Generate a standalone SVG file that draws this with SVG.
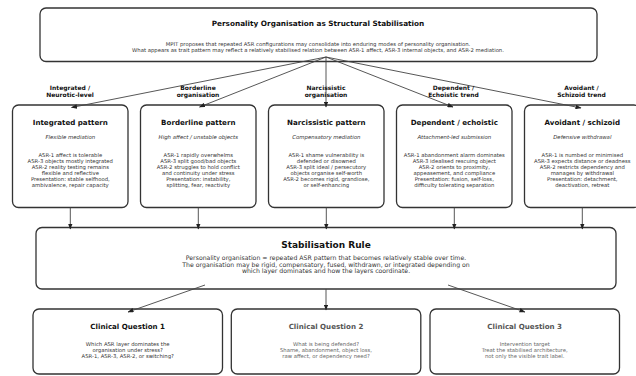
<svg xmlns="http://www.w3.org/2000/svg" width="636" height="376" viewBox="0 0 636 376">
<defs>
<marker id="ah" markerUnits="userSpaceOnUse" markerWidth="6" markerHeight="4.6" refX="5.5" refY="2.3" orient="auto">
<path d="M0,0 L6,2.3 L0,4.6 z" fill="#222"/>
</marker>
<style>
text{font-family:"DejaVu Sans","Liberation Sans",sans-serif;text-anchor:middle}
.box{fill:#fff;stroke:#333;stroke-width:1.3}
.t1{font-size:7.3px;font-weight:bold;fill:#111}
.tp{font-size:7.1px;font-weight:bold;fill:#111}
.ts{font-size:9px;font-weight:bold;fill:#111}
.it{font-size:5.4px;font-style:italic;fill:#333}
.b{font-size:5.3px;fill:#333}
.bs{font-size:6.2px;fill:#333}
.lab{font-size:6px;font-weight:bold;fill:#111}
.g .tp{fill:#555}
.g .b{fill:#666}
.e{stroke:#444;stroke-width:0.9;fill:none;marker-end:url(#ah)}
</style>
</defs>
<g id="top">
<rect class="box" x="40" y="8" width="557" height="53.5" rx="6"/>
<text class="t1" x="318" y="25.5">Personality Organisation as Structural Stabilisation</text>
<text class="b" x="318" y="45.5">MPIT proposes that repeated ASR configurations may consolidate into enduring modes of personality organisation.</text>
<text class="b" x="318" y="52">What appears as trait pattern may reflect a relatively stabilised relation between ASR-1 affect, ASR-3 internal objects, and ASR-2 mediation.</text>
</g>
<g id="p1">
<rect class="box" x="12.5" y="105" width="115.5" height="102.5" rx="6"/>
<text class="tp" x="70.3" y="124.5">Integrated pattern</text>
<text class="it" x="70.3" y="139">Flexible mediation</text>
<text class="b" x="70.3" y="157">ASR-1 affect is tolerable</text>
<text class="b" x="70.3" y="162.9">ASR-3 objects mostly integrated</text>
<text class="b" x="70.3" y="168.8">ASR-2 reality testing remains</text>
<text class="b" x="70.3" y="174.7">flexible and reflective</text>
<text class="b" x="70.3" y="180.6">Presentation: stable selfhood,</text>
<text class="b" x="70.3" y="186.5">ambivalence, repair capacity</text>
</g>
<g id="p2">
<rect class="box" x="140.5" y="105" width="115.5" height="102.5" rx="6"/>
<text class="tp" x="198.3" y="124.5">Borderline pattern</text>
<text class="it" x="198.3" y="139">High affect / unstable objects</text>
<text class="b" x="198.3" y="157">ASR-1 rapidly overwhelms</text>
<text class="b" x="198.3" y="162.9">ASR-3 split good/bad objects</text>
<text class="b" x="198.3" y="168.8">ASR-2 struggles to hold conflict</text>
<text class="b" x="198.3" y="174.7">and continuity under stress</text>
<text class="b" x="198.3" y="180.6">Presentation: instability,</text>
<text class="b" x="198.3" y="186.5">splitting, fear, reactivity</text>
</g>
<g id="p3">
<rect class="box" x="268.5" y="105" width="115.5" height="102.5" rx="6"/>
<text class="tp" x="326.3" y="124.5">Narcissistic pattern</text>
<text class="it" x="326.3" y="139">Compensatory mediation</text>
<text class="b" x="326.3" y="157">ASR-1 shame vulnerability is</text>
<text class="b" x="326.3" y="162.9">defended or disowned</text>
<text class="b" x="326.3" y="168.8">ASR-3 split ideal / persecutory</text>
<text class="b" x="326.3" y="174.7">objects organise self-worth</text>
<text class="b" x="326.3" y="180.6">ASR-2 becomes rigid, grandiose,</text>
<text class="b" x="326.3" y="186.5">or self-enhancing</text>
</g>
<g id="p4">
<rect class="box" x="396.5" y="105" width="115.5" height="102.5" rx="6"/>
<text class="tp" x="454.3" y="124.5">Dependent / echoistic</text>
<text class="it" x="454.3" y="139">Attachment-led submission</text>
<text class="b" x="454.3" y="157">ASR-1 abandonment alarm dominates</text>
<text class="b" x="454.3" y="162.9">ASR-3 idealised rescuing object</text>
<text class="b" x="454.3" y="168.8">ASR-2 orients to proximity,</text>
<text class="b" x="454.3" y="174.7">appeasement, and compliance</text>
<text class="b" x="454.3" y="180.6">Presentation: fusion, self-loss,</text>
<text class="b" x="454.3" y="186.5">difficulty tolerating separation</text>
</g>
<g id="p5">
<rect class="box" x="524.5" y="105" width="115.5" height="102.5" rx="6"/>
<text class="tp" x="582.3" y="124.5">Avoidant / schizoid</text>
<text class="it" x="582.3" y="139">Defensive withdrawal</text>
<text class="b" x="582.3" y="157">ASR-1 is numbed or minimised</text>
<text class="b" x="582.3" y="162.9">ASR-3 expects distance or deadness</text>
<text class="b" x="582.3" y="168.8">ASR-2 restricts dependency and</text>
<text class="b" x="582.3" y="174.7">manages by withdrawal</text>
<text class="b" x="582.3" y="180.6">Presentation: detachment,</text>
<text class="b" x="582.3" y="186.5">deactivation, retreat</text>
</g>
<g id="rule">
<rect class="box" x="36" y="227.5" width="580" height="61.5" rx="6"/>
<text class="ts" x="326" y="247.5">Stabilisation Rule</text>
<text class="bs" x="326" y="260">Personality organisation = repeated ASR pattern that becomes relatively stable over time.</text>
<text class="bs" x="326" y="266.7">The organisation may be rigid, compensatory, fused, withdrawn, or integrated depending on</text>
<text class="bs" x="326" y="273.4">which layer dominates and how the layers coordinate.</text>
</g>
<g id="cq1">
<rect class="box" x="33" y="309" width="189.5" height="65" rx="6"/>
<text class="tp" x="127.7" y="328.5">Clinical Question 1</text>
<text class="b" x="127.7" y="346">Which ASR layer dominates the</text>
<text class="b" x="127.7" y="351.8">organisation under stress?</text>
<text class="b" x="127.7" y="357.6">ASR-1, ASR-3, ASR-2, or switching?</text>
</g>
<g id="cq2" class="g">
<rect class="box" x="231.3" y="309" width="189.5" height="65" rx="6"/>
<text class="tp" x="326" y="328.5">Clinical Question 2</text>
<text class="b" x="326" y="346">What is being defended?</text>
<text class="b" x="326" y="351.8">Shame, abandonment, object loss,</text>
<text class="b" x="326" y="357.6">raw affect, or dependency need?</text>
</g>
<g id="cq3" class="g">
<rect class="box" x="430" y="309" width="189.5" height="65" rx="6"/>
<text class="tp" x="524.7" y="328.5">Clinical Question 3</text>
<text class="b" x="524.7" y="346">Intervention target</text>
<text class="b" x="524.7" y="351.8">Treat the stabilised architecture,</text>
<text class="b" x="524.7" y="357.6">not only the visible trait label.</text>
</g>
<g id="connectors">
<path class="e" d="M326,57 L71.5,107.5"/>
<path class="e" d="M326,57 L199.5,107"/>
<path class="e" d="M326,57 L326,107"/>
<path class="e" d="M326,57 L453,107"/>
<path class="e" d="M326,57 L581,108"/>
<path class="e" d="M70.3,207.5 L70.3,229"/>
<path class="e" d="M198.3,207.5 L198.3,229"/>
<path class="e" d="M326.3,207.5 L326.3,229"/>
<path class="e" d="M454.3,207.5 L454.3,229"/>
<path class="e" d="M582.3,207.5 L582.3,229"/>
<path class="e" d="M205,285 L128,312"/>
<path class="e" d="M326,289 L326,310"/>
<path class="e" d="M448,285 L525,312"/>
<text class="lab" x="70" y="89.5">Integrated /</text>
<text class="lab" x="70" y="97">Neurotic-level</text>
<text class="lab" x="198" y="89.5">Borderline</text>
<text class="lab" x="198" y="97">organisation</text>
<text class="lab" x="326" y="89.5">Narcissistic</text>
<text class="lab" x="326" y="97">organisation</text>
<text class="lab" x="453.5" y="89.5">Dependent /</text>
<text class="lab" x="453.5" y="97">Echoistic trend</text>
<text class="lab" x="581.5" y="89.5">Avoidant /</text>
<text class="lab" x="581.5" y="97">Schizoid trend</text>
</g>
</svg>
